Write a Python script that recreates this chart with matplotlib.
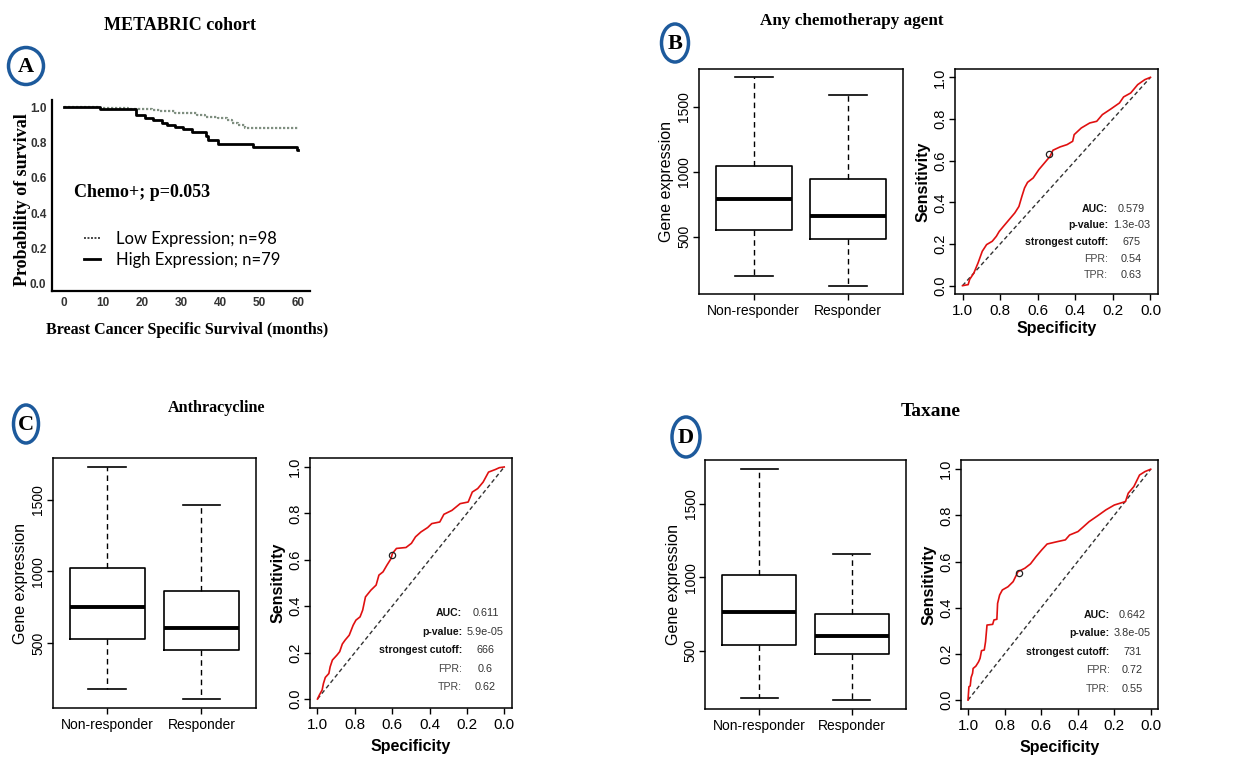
import matplotlib
matplotlib.use("Agg")
import matplotlib.pyplot as plt
from matplotlib.patches import Ellipse
from matplotlib.lines import Line2D
import numpy as np

W, H = 1258, 758
SANS = "Liberation Sans"
SERIF = "Liberation Serif"
BLUE = "#1d5a9c"

# ---- panel A: Kaplan-Meier (METABRIC, chemo+) ----
km_low_t = [0, 9.2, 16.5, 22.5, 24.6, 28.5, 34, 36.2, 39.6, 41.7, 43, 44.7, 46.4, 60]
km_low_s = [1.0, 0.995, 0.99, 0.985, 0.975, 0.965, 0.955, 0.945, 0.937, 0.925, 0.91, 0.9, 0.88, 0.88]
km_high_t = [0, 9.2, 18.4, 20.8, 22.9, 25, 26.3, 28.5, 30.6, 32.7, 36.4, 37, 39.4, 48.5, 59.8, 60]
km_high_s = [1.0, 0.99, 0.955, 0.94, 0.925, 0.91, 0.9, 0.89, 0.875, 0.86, 0.835, 0.815, 0.79, 0.775,
             0.755, 0.755]
km_labels = ["Low Expression; n=98", "High Expression; n=79"]

# ---- box plots: (whisker low, Q1, median, Q3, whisker high) ----
groups = ["Non-responder", "Responder"]
box_B = [(195, 554, 790, 1041, 1725), (123, 485, 656, 946, 1587)]
box_C = [(185, 533, 752, 1023, 1727), (113, 451, 607, 865, 1460)]
box_D = [(177, 537, 767, 1016, 1733), (166, 478, 598, 752, 1159)]

# ---- ROC curves (specificity, sensitivity) ----
spec_B = [1.0, 0.97, 0.962, 0.94, 0.917, 0.895, 0.872, 0.842, 0.82, 0.805, 0.782, 0.752, 0.722, 0.7,
          0.684, 0.67, 0.654, 0.624, 0.594, 0.564, 0.534, 0.519, 0.481, 0.444, 0.414, 0.406, 0.368,
          0.323, 0.286, 0.256, 0.211, 0.165, 0.143, 0.105, 0.068, 0.03, 0.0]
sens_B = [0.0, 0.005, 0.03, 0.06, 0.11, 0.165, 0.197, 0.213, 0.237, 0.26, 0.285, 0.317, 0.349, 0.38,
          0.429, 0.469, 0.496, 0.517, 0.557, 0.589, 0.621, 0.65, 0.666, 0.677, 0.693, 0.725, 0.757,
          0.781, 0.789, 0.821, 0.848, 0.877, 0.906, 0.925, 0.965, 0.989, 1.0]
spec_C = [1.0, 0.99, 0.975, 0.968, 0.958, 0.939, 0.932, 0.92, 0.896, 0.881, 0.867, 0.852, 0.83, 0.809,
          0.794, 0.772, 0.758, 0.743, 0.714, 0.686, 0.671, 0.649, 0.628, 0.606, 0.599, 0.577, 0.526,
          0.497, 0.475, 0.446, 0.41, 0.388, 0.345, 0.323, 0.28, 0.236, 0.193, 0.171, 0.142, 0.113,
          0.084, 0.048, 0.026, 0.0]
sens_C = [0.0, 0.017, 0.039, 0.067, 0.093, 0.11, 0.139, 0.168, 0.189, 0.204, 0.237, 0.254, 0.275, 0.318,
          0.34, 0.354, 0.383, 0.44, 0.469, 0.491, 0.534, 0.548, 0.577, 0.605, 0.627, 0.649, 0.653,
          0.671, 0.699, 0.72, 0.739, 0.756, 0.763, 0.796, 0.813, 0.842, 0.849, 0.892, 0.907, 0.935,
          0.978, 0.989, 0.997, 1.0]
spec_D = [1.0, 0.995, 0.988, 0.983, 0.975, 0.972, 0.957, 0.942, 0.934, 0.926, 0.911, 0.904, 0.896,
          0.865, 0.858, 0.842, 0.838, 0.827, 0.812, 0.781, 0.753, 0.735, 0.727, 0.689, 0.658, 0.628,
          0.597, 0.567, 0.513, 0.467, 0.444, 0.398, 0.368, 0.337, 0.291, 0.245, 0.199, 0.138, 0.123,
          0.092, 0.061, 0.031, 0.0]
sens_D = [0.0, 0.058, 0.061, 0.098, 0.116, 0.137, 0.147, 0.166, 0.181, 0.214, 0.217, 0.253, 0.325,
          0.328, 0.347, 0.35, 0.419, 0.455, 0.477, 0.491, 0.513, 0.542, 0.556, 0.571, 0.59, 0.621,
          0.65, 0.676, 0.686, 0.694, 0.715, 0.73, 0.751, 0.773, 0.798, 0.824, 0.845, 0.86, 0.896,
          0.925, 0.975, 0.99, 1.0]
best_B = (0.54, 0.63)
best_C = (0.60, 0.62)
best_D = (0.72, 0.55)
stats_keys = ["AUC:", "p-value:", "strongest cutoff:", "FPR:", "TPR:"]
stats_B = ["0.579", "1.3e-03", "675", "0.54", "0.63"]
stats_C = ["0.611", "5.9e-05", "666", "0.6", "0.62"]
stats_D = ["0.642", "3.8e-05", "731", "0.72", "0.55"]

fig = plt.figure(figsize=(W / 100, H / 100), dpi=100)
fig.patch.set_facecolor("white")


def px_axes(l, t, r, b):
    return fig.add_axes([l / W, 1 - b / H, (r - l) / W, (b - t) / H])


def ftext(x, y, s, **kw):
    fig.text(x / W, 1 - y / H, s, **kw)


def badge(cx, cy, w, h, letter):
    fig.patches.append(Ellipse((cx / W, 1 - cy / H), w / W, h / H, transform=fig.transFigure,
                               fill=False, ec=BLUE, lw=2.5))
    ftext(cx, cy + 1, letter, ha="center", va="center", family=SERIF, weight="bold", fontsize=16)


def place_labels(ax, xpos, ypos):
    # label centres in axes fraction
    ax.xaxis.label.set_va("center")
    ax.yaxis.label.set_va("center")
    ax.xaxis.set_label_coords(*xpos)
    ax.yaxis.set_label_coords(*ypos)


def r_frame(ax):
    for sp in ax.spines.values():
        sp.set_linewidth(1.1)
    ax.tick_params(direction="out", length=4, width=1.0, pad=3)
    ax.tick_params(axis="y", pad=1.5)


def box_panel(ax, stats):
    data = [dict(whislo=s[0], q1=s[1], med=s[2], q3=s[3], whishi=s[4], fliers=[]) for s in stats]
    ax.bxp(data, positions=[1, 2], widths=0.8, capwidths=0.4,
           boxprops=dict(lw=1.2, color="black"),
           medianprops=dict(lw=2.8, color="black"),
           whiskerprops=dict(lw=1.0, color="black", linestyle=(0, (4, 3))),
           capprops=dict(lw=1.2, color="black"))
    lo = min(s[0] for s in stats)
    hi = max(s[4] for s in stats)
    pad = 0.04 * (hi - lo)
    ax.set_ylim(lo - pad, hi + pad)
    ax.set_xlim(0.42, 2.58)
    ax.set_xticks([1, 2])
    ax.set_xticklabels(groups, family=SANS, fontsize=10)
    ax.set_yticks([500, 1000, 1500])
    ax.set_yticklabels(["500", "1000", "1500"], family=SANS, fontsize=10, rotation=90, va="center")
    ax.set_ylabel("Gene expression", family=SANS, fontsize=11.5)
    place_labels(ax, (0.5, -0.2), (-0.158, 0.5))
    r_frame(ax)


def roc_panel(ax, spec, sens, best, vals):
    ax.plot([1, 0], [0, 1], color="#333333", lw=1.0, linestyle=(0, (3, 2)))
    ax.plot(spec, sens, color="#e01010", lw=1.2)
    ax.plot([best[0]], [best[1]], "o", mfc="none", mec="#222222", ms=4.5, mew=0.9)
    ax.set_xlim(1.04, -0.04)
    ax.set_ylim(-0.04, 1.04)
    t = np.round(np.arange(0, 1.01, 0.2), 1)
    ax.set_xticks(t)
    ax.set_xticklabels([f"{v:.1f}" for v in t], family=SANS, fontsize=11)
    ax.set_yticks(t)
    ax.set_yticklabels([f"{v:.1f}" for v in t], family=SANS, fontsize=10.5, rotation=90, va="center")
    ax.set_xlabel("Specificity", family=SANS, weight="bold", fontsize=11.5)
    ax.set_ylabel("Sensitivity", family=SANS, weight="bold", fontsize=11.5)
    place_labels(ax, (0.5, -0.152), (-0.16, 0.5))
    rows = [0.37, 0.29, 0.21, 0.13, 0.05]
    for i, (k, v) in enumerate(zip(stats_keys, vals)):
        bold = i < 3
        ax.text(0.225, rows[i], k, ha="right", va="center", family=SANS, fontsize=7.6,
                weight="bold" if bold else "normal", color="#111111" if bold else "#444444")
        ax.text(0.10, rows[i], v, ha="center", va="center", family=SANS, fontsize=7.8, color="#333333")
    r_frame(ax)


# ---- panel A ----
axA = px_axes(52, 100, 310, 291)
axA.step(km_low_t, km_low_s, where="post", color="#7f8f80", lw=1.6, linestyle=(0, (1, 0.8)))
axA.step(km_high_t, km_high_s, where="post", color="black", lw=2.0)
axA.set_xlim(-3.1, 63.1)
axA.set_ylim(-0.04, 1.04)
axA.set_xticks(range(0, 61, 10))
axA.set_yticks(np.round(np.arange(0, 1.01, 0.2), 1))
axA.set_yticklabels([f"{v:.1f}" for v in np.arange(0, 1.01, 0.2)])
for lab in axA.get_xticklabels() + axA.get_yticklabels():
    lab.set_family(SANS)
    lab.set_weight("bold")
    lab.set_fontsize(8.5)
    lab.set_color("#333333")
axA.tick_params(length=0, pad=4)
axA.spines["top"].set_visible(False)
axA.spines["right"].set_visible(False)
axA.spines["left"].set_linewidth(1.6)
axA.spines["bottom"].set_linewidth(1.6)
axA.set_xlabel("Breast Cancer Specific Survival (months)", family=SERIF, weight="bold", fontsize=11.5)
axA.set_ylabel("Probability of survival", family=SERIF, weight="bold", fontsize=13)
place_labels(axA, (0.522, -0.204), (-0.114, 0.476))
axA.text(0.085, 0.515, "Chemo+; p=0.053", transform=axA.transAxes, family=SERIF, weight="bold",
         fontsize=13, va="center")
handles = [Line2D([], [], color="#444444", lw=1.4, linestyle=(0, (1, 0.8))),
           Line2D([], [], color="black", lw=2.0)]
axA.legend(handles, km_labels, loc="upper left", bbox_to_anchor=(0.09, 0.36), frameon=False,
           handlelength=1.0, handletextpad=0.95, labelspacing=0.3, borderpad=0,
           prop=dict(family="Lato", size=12))

# ---- panels B, C, D ----
box_panel(px_axes(699, 69, 903, 294), box_B)
roc_panel(px_axes(955, 69, 1158, 294), spec_B, sens_B, best_B, stats_B)
box_panel(px_axes(52.7, 457.7, 256, 708.3), box_C)
roc_panel(px_axes(310, 457.7, 511.7, 708.3), spec_C, sens_C, best_C, stats_C)
box_panel(px_axes(705.3, 460, 905.7, 709.3), box_D)
roc_panel(px_axes(960.7, 460, 1158, 709.3), spec_D, sens_D, best_D, stats_D)

# ---- titles and panel badges ----
ftext(180, 25, "METABRIC cohort", ha="center", va="center", family=SERIF, weight="bold", fontsize=13)
ftext(852, 21, "Any chemotherapy agent", ha="center", va="center", family=SERIF, weight="bold",
      fontsize=12.3)
ftext(217, 408, "Anthracycline", ha="center", va="center", family=SERIF, weight="bold", fontsize=11.6)
ftext(931, 412, "Taxane", ha="center", va="center", family=SERIF, weight="bold", fontsize=14)
badge(26, 66, 35, 37, "A")
badge(675, 43, 27, 38, "B")
badge(26, 424, 25, 38, "C")
badge(686, 437, 28, 40, "D")

fig.savefig("out.png", dpi=100)
